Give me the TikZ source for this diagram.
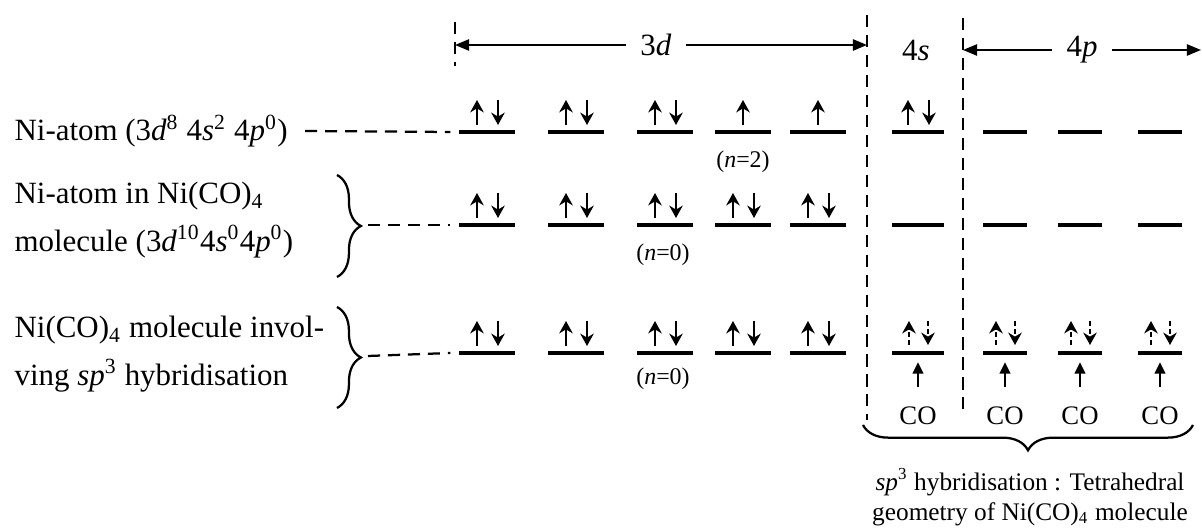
\documentclass[tikz,border=0pt]{standalone}
\usepackage{fontspec}
\setmainfont{Liberation Serif}
\usetikzlibrary{arrows.meta, positioning, decorations.pathreplacing}
\newcommand{\orbl}[2]{\textit{#1}\textsuperscript{#2}}

\begin{document}
\begin{tikzpicture}[
  x=0.0125cm, y=-0.0125cm,
  orb/.style={fill=black, inner sep=0pt, minimum width=0.69cm, minimum height=1.4pt},
  orbs/.style={orb, minimum width=0.66cm},
  orbp/.style={orb, minimum width=0.56cm},
  spin/.style={-{Stealth[length=4.4pt, width=4.8pt]}, line width=1.05pt},
  hybspin/.style={spin, dash pattern=on 1.8pt off 1.1pt},
  lead/.style={line width=0.8pt, dash pattern=on 4.3pt off 2.8pt},
  sep/.style={line width=0.7pt, dash pattern=on 4.3pt off 2.8pt},
  dim/.style={-{Triangle[length=5pt, width=4pt]}, line width=0.6pt},
  coarr/.style={-{Triangle[length=4pt, width=3.8pt]}, line width=0.7pt,
                shorten <=3.5pt, shorten >=2.4pt},
  lbrace/.style={decorate, decoration={brace, amplitude=8.5pt}, line width=0.8pt},
  bbrace/.style={decorate, decoration={brace, mirror, amplitude=9pt}, line width=0.8pt},
  lbl/.style={anchor=west, align=left, inner sep=0pt, font=\fontsize{11}{16.8}\selectfont},
  hdr/.style={inner xsep=5pt, font=\fontsize{11}{13}\selectfont},
  note/.style={inner sep=0pt, font=\fontsize{8.5}{10}\selectfont},
  co/.style={font=\fontsize{9.5}{11}\selectfont}
]
\useasboundingbox (0,0) rectangle (1202,528);

% separators and headers
\coordinate (s1) at (455,22);  \coordinate (s1b) at (455,66);
\coordinate (s2) at (867,15);  \coordinate (s2b) at (867,420);
\coordinate (s3) at (963,18);  \coordinate (s3b) at (963,410);
\coordinate (rt) at (1201,50);
\draw[sep] (s1) -- (s1b);
\draw[sep] (s2) -- (s2b);
\draw[sep] (s3) -- (s3b);

\node[hdr] (t3d) at (656,45) {3\textit{d}};
\node[hdr] (t4s) at (916,50) {4\textit{s}};
\node[hdr] (t4p) at (1082,50) {4\textit{p}};
\draw[dim] (t3d) -- (t3d -| s1);
\draw[dim] (t3d) -- (t3d -| s2);
\draw[dim] (t4p) -- (t4p -| s3);
\draw[dim] (t4p) -- (t4p -| rt);

% row labels
\node[lbl] (lab1) at (14,131) {Ni-atom (3\orbl{d}{8} 4\orbl{s}{2} 4\orbl{p}{0})};
\node[lbl] (lab2) at (14,220) {Ni-atom in Ni(CO)\textsubscript{4}\\
  molecule (3\orbl{d}{10}4\orbl{s}{0}4\orbl{p}{0})};
\node[lbl] (lab3) at (14,354) {Ni(CO)\textsubscript{4} molecule invol-\\
  ving \orbl{sp}{3} hybridisation};

% orbitals
\foreach \x [count=\i] in {487,576,665,743,818} {
  \node[orb] (a\i) at (\x,132) {};
  \node[orb] (b\i) at (\x,225) {};
  \node[orb] (c\i) at (\x,353) {};
}
\node[orbs] (a6) at (918,132) {};
\node[orbs] (b6) at (918,225) {};
\node[orbs] (c6) at (918,353) {};
\foreach \x [count=\i from 7] in {1005,1080,1160} {
  \node[orbp] (a\i) at (\x,132) {};
  \node[orbp] (b\i) at (\x,225) {};
  \node[orbp] (c\i) at (\x,353) {};
}

% leaders
\coordinate (tip2) at (368,225);
\coordinate (tip3) at (368,356);
\draw[lead] ([xshift=6pt]lab1.east) -- ([xshift=-3pt]a1.west);
\draw[lbrace] (337,175) -- (337,277);
\draw[lead] (tip2) -- ([xshift=-3pt]b1.west);
\draw[lbrace] (337,307) -- (337,408);
\draw[lead] (tip3) -- ([xshift=-3pt]c1.west);

% electrons
\foreach \n in {a1,a2,a3,a6,b1,b2,b3,b4,b5,c1,c2,c3,c4,c5} {
  \draw[spin] ([shift={(-10,-7)}]\n.center) -- +(0,-25);
  \draw[spin] ([shift={(11,-32)}]\n.center) -- +(0,25);
}
\foreach \n in {a4,a5}
  \draw[spin] ([shift={(0,-7)}]\n.center) -- +(0,-25);
\foreach \n in {c6,c7,c8,c9} {
  \draw[hybspin] ([shift={(-9,-8)}]\n.center) -- +(0,-24);
  \draw[hybspin] ([shift={(10,-32)}]\n.center) -- +(0,24);
}

\node[note] (n1) at (743,162) {(\textit{n}=2)};
\node[note] (n2) at (663,255) {(\textit{n}=0)};
\node[note] (n3) at (663,379) {(\textit{n}=0)};

% ligands
\foreach \i in {6,7,8,9} {
  \node[co] (co\i) at (c\i |- 0,416) {CO};
  \draw[coarr] (co\i) -- (c\i);
}
\draw[bbrace] (863,425) -- (1193,425);
\node[align=center, font=\fontsize{9}{10.7}\selectfont] (geo) at (1030,497)
  {\orbl{sp}{3} hybridisation : Tetrahedral\\ geometry of Ni(CO)\textsubscript{4} molecule};
\end{tikzpicture}
\end{document}
